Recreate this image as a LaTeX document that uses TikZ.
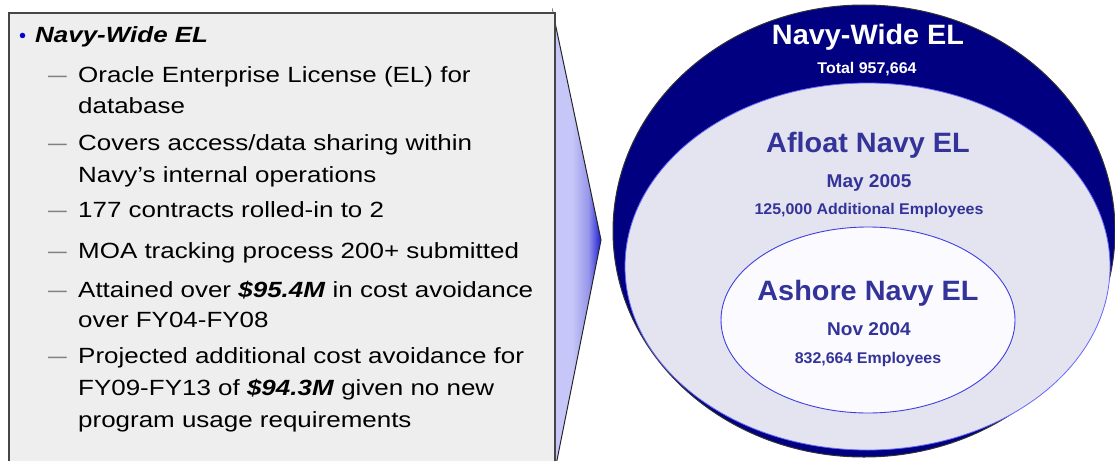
\documentclass[tikz,border=0pt]{standalone}
\usepackage{fontspec}
\setmainfont{Liberation Sans}
\newfontfamily\lfont{Liberation Sans}[FakeStretch=1.18]
\newfontfamily\cfont{Liberation Sans}[FakeStretch=1.03]
\definecolor{boxgray}{RGB}{238,238,238}
\definecolor{boxline}{RGB}{70,70,70}
\definecolor{dashgray}{RGB}{128,128,128}
\definecolor{bulblue}{RGB}{0,0,204}
\definecolor{lav}{RGB}{198,198,248}
\definecolor{lavmid}{RGB}{150,150,234}
\definecolor{wblue}{RGB}{28,28,214}
\definecolor{navy}{RGB}{0,0,128}
\definecolor{midfill}{RGB}{228,228,240}
\definecolor{innerfill}{RGB}{250,250,255}
\definecolor{ringline}{RGB}{64,64,224}
\definecolor{ctext}{RGB}{51,51,153}
\pgfdeclarehorizontalshading{wedgeshade}{100bp}{color(0bp)=(lav); color(25bp)=(lav); color(45bp)=(lav); color(62bp)=(lavmid); color(75bp)=(wblue); color(100bp)=(wblue)}
\begin{document}
\begin{tikzpicture}[x=1pt,y=-1pt,
  lt/.style={anchor=base west, inner sep=0pt, font=\lfont\fontsize{22}{26}\selectfont, text=black},
  dsh/.style={anchor=base west, inner sep=0pt, font=\lfont\fontsize{22}{26}\selectfont, text=dashgray},
  big/.style={anchor=base, inner sep=0pt, font=\cfont\bfseries\fontsize{28}{32}\selectfont},
  mid/.style={anchor=base, inner sep=0pt, font=\cfont\bfseries\fontsize{18.5}{22}\selectfont},
  small/.style={anchor=base, inner sep=0pt, font=\cfont\bfseries\fontsize{15.5}{18}\selectfont}]
\useasboundingbox (0,0) rectangle (1115,460);
\clip (0,0) rectangle (1115,460);
% wedge pointer
\path[draw=black!85, line width=1pt, shading=wedgeshade]
  (553,13) -- (601,240) -- (555,470) -- cycle;
% left box
\draw[fill=boxgray, draw=boxline, line width=1.2pt] (9,13) rectangle (555,475);
% bullet
\node[circle, fill=bulblue, inner sep=0pt, minimum size=5.5pt] (bul) at (22.5,35.5) {};
\node[lt, font=\lfont\bfseries\itshape\fontsize{22}{26}\selectfont] (l1) at (35,43) {Navy-Wide EL};
% items
\node[dsh] (d1) at (48,82) {\scalebox{1.3}[1]{–}};
\node[lt] (l2) at (78,82) {Oracle Enterprise License (EL) for};
\node[lt] (l3) at (78,113) {database};
\node[dsh] (d2) at (48,150) {\scalebox{1.3}[1]{–}};
\node[lt] (l4) at (78,150) {Covers access/data sharing within};
\node[lt] (l5) at (78,182) {Navy’s internal operations};
\node[dsh] (d3) at (48,217) {\scalebox{1.3}[1]{–}};
\node[lt] (l6) at (78,217) {177 contracts rolled-in to 2};
\node[dsh] (d4) at (48,258) {\scalebox{1.3}[1]{–}};
\node[lt] (l7) at (78,258) {MOA tracking process 200+ submitted};
\node[dsh] (d5) at (48,297) {\scalebox{1.3}[1]{–}};
\node[lt] (l8) at (78,297) {Attained over \textbf{\textit{\$95.4M}} in cost avoidance};
\node[lt] (l9) at (78,327) {over FY04-FY08};
\node[dsh] (d6) at (48,363) {\scalebox{1.3}[1]{–}};
\node[lt] (l10) at (78,363) {Projected additional cost avoidance for};
\node[lt] (l11) at (78,395) {FY09-FY13 of \textbf{\textit{\$94.3M}} given no new};
\node[lt] (l12) at (78,427) {program usage requirements};
% ellipses
\draw[fill=navy, draw=black!80, line width=1pt] (864,231) ellipse [x radius=251, y radius=226];
\draw[fill=midfill, draw=blue!60, line width=0.8pt] (867.5,266.5) ellipse [x radius=242.5, y radius=183.5];
\draw[fill=innerfill, draw=ringline, line width=0.9pt] (868,320) ellipse [x radius=147, y radius=93];
% circle texts
\node[big, text=white] (nw) at (868,45) {Navy-Wide EL};
\node[small, text=white] (tot) at (867,74) {Total 957,664};
\node[big, text=ctext] (af) at (868,152) {Afloat Navy EL};
\node[mid, text=ctext] (may) at (869,187) {May 2005};
\node[small, text=ctext] (add) at (869,214) {125,000 Additional Employees};
\node[big, text=ctext] (ash) at (868,300) {Ashore Navy EL};
\node[mid, text=ctext] (nov) at (869,335) {Nov 2004};
\node[small, text=ctext] (emp) at (868,363) {832,664 Employees};
\end{tikzpicture}
\end{document}
